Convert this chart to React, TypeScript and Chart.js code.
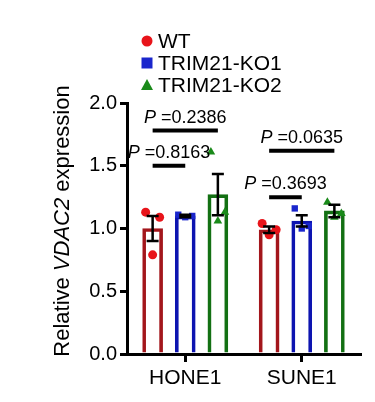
import React, { useEffect, useRef } from "react";
import { Chart, registerables } from "chart.js";

Chart.register(...registerables);

const categories = ["HONE1", "SUNE1"];
const seriesNames = ["WT", "TRIM21-KO1", "TRIM21-KO2"];
const seriesMeans = [
  [1.0, 0.99],
  [1.1, 1.06],
  [1.27, 1.14],
];
const seriesSem = [
  [0.1, 0.025],
  [0.01, 0.045],
  [0.165, 0.05],
];
// replicate points per series, per category
const pointsWT = [
  [1.13, 1.09, 0.79],
  [1.04, 0.99, 0.95],
];
const pointsKO1 = [
  [1.11, 1.1, 1.09],
  [1.16, 1.02, 1.0],
];
const pointsKO2 = [
  [1.61, 1.13, 1.06],
  [1.21, 1.12, 1.09],
];
const yTicks = [0, 0.5, 1.0, 1.5, 2.0];
// significance comparisons: category index, from series, to series, line level, label
const compCategory = [0, 0, 1, 1];
const compFrom = [0, 0, 0, 0];
const compTo = [2, 1, 2, 1];
const compLevel = [1.78, 1.5, 1.62, 1.25];
const compLabel = ["=0.2386", "=0.8163", "=0.0635", "=0.3693"];

const FONT = "'Liberation Sans', Arial, sans-serif";
const barBorder = ["#a3161c", "#0d14b0", "#137013"];
const pointColor = ["#e8141a", "#1a26cc", "#1a8a1a"];
const pointStyles = ["circle", "rect", "triangle"];
const slot = 0.28;
const jitter = [-0.06, 0.06, 0.0];

const allPoints = [pointsWT, pointsKO1, pointsKO2];

const overlayPlugin = {
  id: "overlay",
  afterDatasetsDraw(chart: any) {
    const ctx = chart.ctx;
    const xs = chart.scales.x;
    const ys = chart.scales.y;
    ctx.save();
    // error bars
    ctx.strokeStyle = "#000";
    ctx.lineWidth = 2.5;
    for (let s = 0; s < 3; s++) {
      for (let c = 0; c < categories.length; c++) {
        const cx = xs.getPixelForValue(c + (s - 1) * slot);
        const m = seriesMeans[s][c];
        const e = seriesSem[s][c];
        const yt = ys.getPixelForValue(m + e);
        const yb = ys.getPixelForValue(m - e);
        ctx.beginPath();
        ctx.moveTo(cx, yt);
        ctx.lineTo(cx, yb);
        ctx.moveTo(cx - 6, yt);
        ctx.lineTo(cx + 6, yt);
        ctx.moveTo(cx - 6, yb);
        ctx.lineTo(cx + 6, yb);
        ctx.stroke();
      }
    }
    // significance lines
    for (let i = 0; i < compLevel.length; i++) {
      const c = compCategory[i];
      const x1 = xs.getPixelForValue(c + (compFrom[i] - 1) * slot);
      const x2 = xs.getPixelForValue(c + (compTo[i] - 1) * slot);
      const y = ys.getPixelForValue(compLevel[i]);
      ctx.lineWidth = 4;
      ctx.beginPath();
      ctx.moveTo(x1, y);
      ctx.lineTo(x2, y);
      ctx.stroke();
      ctx.font = `italic 18px ${FONT}`;
      const wP = ctx.measureText("P ").width;
      ctx.font = `18px ${FONT}`;
      const wR = ctx.measureText(compLabel[i]).width;
      const total = wP + wR;
      const start = (x1 + x2) / 2 - total / 2;
      ctx.fillStyle = "#000";
      ctx.textBaseline = "alphabetic";
      ctx.textAlign = "left";
      ctx.font = `italic 18px ${FONT}`;
      ctx.fillText("P ", start, y - 8);
      ctx.font = `18px ${FONT}`;
      ctx.fillText(compLabel[i], start + wP, y - 8);
    }
    ctx.restore();
  },
  afterDraw(chart: any) {
    const ctx = chart.ctx;
    ctx.save();
    // legend
    const lx = 147;
    const ly = [41, 63, 85];
    for (let s = 0; s < 3; s++) {
      ctx.fillStyle = pointColor[s];
      const y = ly[s];
      ctx.beginPath();
      if (s === 0) {
        ctx.arc(lx, y, 5.5, 0, Math.PI * 2);
      } else if (s === 1) {
        ctx.rect(lx - 5.5, y - 5.5, 11, 11);
      } else {
        ctx.moveTo(lx, y - 6);
        ctx.lineTo(lx + 6, y + 5);
        ctx.lineTo(lx - 6, y + 5);
        ctx.closePath();
      }
      ctx.fill();
      ctx.fillStyle = "#000";
      ctx.font = `21px ${FONT}`;
      ctx.textBaseline = "middle";
      ctx.textAlign = "left";
      ctx.fillText(seriesNames[s], 158, y + 1);
    }
    // y title with italic gene name
    const parts = [
      { t: "Relative ", f: `22px ${FONT}` },
      { t: "VDAC2", f: `italic 22px ${FONT}` },
      { t: " expression", f: `22px ${FONT}` },
    ];
    let total = 0;
    const widths = parts.map((p) => {
      ctx.font = p.f;
      const w = ctx.measureText(p.t).width;
      total += w;
      return w;
    });
    ctx.translate(63, 221);
    ctx.rotate(-Math.PI / 2);
    ctx.textBaseline = "middle";
    ctx.textAlign = "left";
    ctx.fillStyle = "#000";
    let x = -total / 2;
    parts.forEach((p, i) => {
      ctx.font = p.f;
      ctx.fillText(p.t, x, 0);
      x += widths[i];
    });
    ctx.restore();
  },
};

export default function App() {
  const ref = useRef<HTMLCanvasElement>(null);
  useEffect(() => {
    if (!ref.current) return;
    const barSets = seriesNames.map((name, s) => ({
      type: "bar" as const,
      label: name,
      data: seriesMeans[s].map((v, c) => ({ x: c + (s - 1) * slot, y: v })),
      backgroundColor: "rgba(255,255,255,0)",
      borderColor: barBorder[s],
      borderWidth: 3,
      barThickness: 20,
      grouped: false,
      order: 3,
    }));
    const pointSets = seriesNames.map((name, s) => ({
      type: "scatter" as const,
      label: name + " points",
      data: allPoints[s].flatMap((vals, c) =>
        vals.map((v, k) => ({ x: c + (s - 1) * slot + jitter[k], y: v }))
      ),
      backgroundColor: pointColor[s],
      borderColor: pointColor[s],
      borderWidth: 0,
      pointStyle: pointStyles[s],
      pointRadius: s === 2 ? 5 : 4.5,
      order: 1,
    }));
    const chart = new Chart(ref.current, {
      type: "bar",
      data: { datasets: [...barSets, ...pointSets] as any },
      plugins: [overlayPlugin],
      options: {
        animation: false,
        responsive: false,
        devicePixelRatio: 1,
        layout: { padding: { top: 103, right: 15, left: 0, bottom: 0 } },
        plugins: { legend: { display: false }, tooltip: { enabled: false } },
        scales: {
          x: {
            type: "linear",
            min: -0.5,
            max: 1.5,
            offset: false,
            afterBuildTicks: (scale: any) => {
              scale.ticks = categories.map((_, i) => ({ value: i }));
            },
            grid: {
              display: true,
              drawOnChartArea: false,
              drawTicks: true,
              tickLength: 8,
              lineWidth: 3,
              color: "#000",
              offset: false,
            },
            border: { display: true, color: "#000", width: 3 },
            ticks: {
              color: "#000",
              font: { family: FONT, size: 21 },
              padding: 4,
              maxRotation: 0,
              autoSkip: false,
              callback: (v: any) => categories[Math.round(Number(v))] ?? "",
            },
            afterFit: (scale: any) => {
              scale.height = 48;
            },
          },
          y: {
            type: "linear",
            min: 0,
            max: 2,
            afterBuildTicks: (scale: any) => {
              scale.ticks = yTicks.map((v) => ({ value: v }));
            },
            grid: {
              display: true,
              drawOnChartArea: false,
              drawTicks: true,
              tickLength: 7,
              lineWidth: 3,
              color: "#000",
            },
            border: { display: true, color: "#000", width: 3 },
            ticks: {
              color: "#000",
              font: { family: FONT, size: 20 },
              padding: 3,
              callback: (v: any) => Number(v).toFixed(1),
            },
            afterFit: (scale: any) => {
              scale.width = 127;
            },
          },
        },
      } as any,
    });
    return () => chart.destroy();
  }, []);
  return (
    <div style={{ position: "fixed", left: 0, top: 0, width: 375, height: 402, background: "#fff" }}>
      <canvas ref={ref} width={375} height={402} style={{ display: "block" }} />
    </div>
  );
}
